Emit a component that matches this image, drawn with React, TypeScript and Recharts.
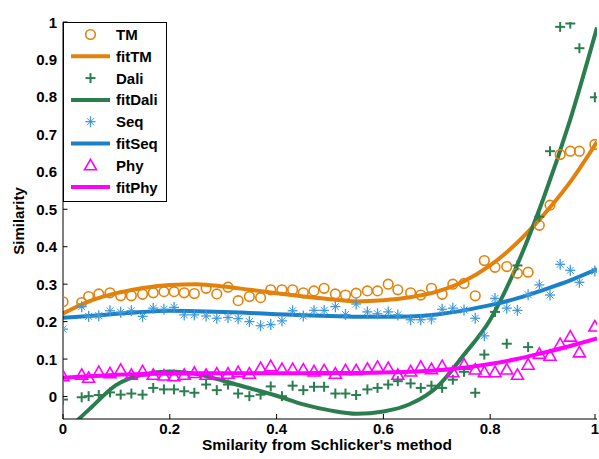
import React from 'react';
import { ComposedChart, Line, Scatter, XAxis, YAxis, Legend } from 'recharts';

// Shared x positions of the sampled points
const xs = [
  0, 0.035, 0.048, 0.067, 0.088, 0.108, 0.128, 0.149, 0.169, 0.189,
  0.208, 0.227, 0.246, 0.268, 0.288, 0.309, 0.328, 0.349, 0.37, 0.389,
  0.41, 0.43, 0.45, 0.47, 0.489, 0.51, 0.529, 0.549, 0.57, 0.589,
  0.609, 0.627, 0.651, 0.67, 0.69, 0.71, 0.73, 0.751, 0.772, 0.789,
  0.809, 0.831, 0.851, 0.871, 0.892, 0.912, 0.931, 0.95, 0.967, 0.996,
];

const tmValues = [
  0.253, 0.251, 0.267, 0.274, 0.277, 0.269, 0.269, 0.273, 0.277, 0.28,
  0.28, 0.277, 0.275, 0.289, 0.274, 0.292, 0.256, 0.267, 0.264, 0.285,
  0.285, 0.285, 0.277, 0.282, 0.289, 0.274, 0.271, 0.276, 0.282, 0.282,
  0.3, 0.285, 0.277, 0.271, 0.289, 0.273, 0.3, 0.302, 0.269, 0.363,
  0.345, 0.347, 0.329, 0.332, 0.457, 0.511, 0.646, 0.655, 0.655, 0.673,
];

const daliValues = [
  -0.008, -0.002, 0.001, 0.004, 0.011, 0.005, 0.008, 0.005, 0.023, 0.019,
  0.019, 0.014, 0.01, 0.032, 0.017, 0.032, 0.008, 0.001, 0.005, 0.027,
  0.001, 0.029, 0.017, 0.026, 0.026, 0.008, 0.008, 0.004, 0.019, 0.023,
  0.032, 0.041, 0.035, 0.023, 0.029, 0.023, 0.045, 0.066, 0.01, 0.112,
  0.226, 0.141, 0.35, 0.132, 0.48, 0.655, 0.987, 0.996, 0.93, 0.799,
];

const seqValues = [
  0.18, 0.24, 0.214, 0.216, 0.229, 0.225, 0.229, 0.214, 0.236, 0.233,
  0.238, 0.218, 0.218, 0.215, 0.209, 0.211, 0.208, 0.2, 0.189, 0.192,
  0.202, 0.229, 0.215, 0.23, 0.23, 0.24, 0.219, 0.247, 0.226, 0.221,
  0.226, 0.218, 0.205, 0.205, 0.207, 0.233, 0.236, 0.231, 0.209, 0.162,
  0.262, 0.236, 0.23, 0.272, 0.298, 0.271, 0.353, 0.337, 0.305, 0.335,
];

const phyValues = [
  0.054, 0.058, 0.05, 0.065, 0.062, 0.071, 0.058, 0.067, 0.058, 0.056,
  0.054, 0.058, 0.063, 0.058, 0.061, 0.061, 0.065, 0.061, 0.076, 0.081,
  0.073, 0.073, 0.072, 0.067, 0.07, 0.061, 0.07, 0.07, 0.074, 0.079,
  0.076, 0.058, 0.067, 0.079, 0.073, 0.081, 0.065, 0.085, 0.072, 0.065,
  0.065, 0.072, 0.058, 0.085, 0.114, 0.109, 0.14, 0.16, 0.118, 0.187,
];

// Fitted curves, sampled every 0.05
const fitX = [
  0, 0.05, 0.1, 0.15, 0.2, 0.25, 0.3, 0.35, 0.4, 0.45, 0.5,
  0.55, 0.6, 0.65, 0.7, 0.75, 0.8, 0.85, 0.9, 0.95, 1,
];
const fitTMValues = [
  0.222, 0.255, 0.276, 0.29, 0.298, 0.3, 0.294, 0.285, 0.276, 0.267, 0.26,
  0.254, 0.257, 0.265, 0.28, 0.307, 0.35, 0.41, 0.485, 0.573, 0.68,
];
const fitDaliValues = [
  -0.1, -0.033, 0.031, 0.059, 0.067, 0.06, 0.042, 0.022, 0.002, -0.021, -0.037,
  -0.046, -0.04, -0.02, 0.025, 0.11, 0.205, 0.35, 0.53, 0.74, 0.985,
];
const fitSeqValues = [
  0.21, 0.215, 0.221, 0.226, 0.229, 0.228, 0.226, 0.223, 0.22, 0.217, 0.215,
  0.213, 0.213, 0.214, 0.219, 0.23, 0.244, 0.262, 0.285, 0.31, 0.34,
];
const fitPhyValues = [
  0.05, 0.054, 0.058, 0.06, 0.061, 0.062, 0.062, 0.062, 0.062, 0.062, 0.063,
  0.063, 0.064, 0.066, 0.07, 0.077, 0.087, 0.1, 0.117, 0.135, 0.155,
];

const xTicks = [0, 0.2, 0.4, 0.6, 0.8, 1];
const yTicks = [0, 0.1, 0.2, 0.3, 0.4, 0.5, 0.6, 0.7, 0.8, 0.9, 1];

const xTitle = "Smilarity from Schlicker's method";
const yTitle = 'Similarity';

const ORANGE = '#E3810A';
const GREEN = '#2A7D4F';
const BLUE = '#1C80C6';
const SEQ_MARK = '#3F9ADB';
const MAGENTA = '#FF00FF';
const FONT = '"Liberation Sans", Arial, Helvetica, sans-serif';

const legendEntries = [
  { name: 'TM', kind: 'circle', color: ORANGE },
  { name: 'fitTM', kind: 'line', color: ORANGE },
  { name: 'Dali', kind: 'plus', color: GREEN },
  { name: 'fitDali', kind: 'line', color: GREEN },
  { name: 'Seq', kind: 'star', color: SEQ_MARK },
  { name: 'fitSeq', kind: 'line', color: BLUE },
  { name: 'Phy', kind: 'triangle', color: MAGENTA },
  { name: 'fitPhy', kind: 'line', color: MAGENTA },
];

const toPoints = (xv: number[], yv: number[]) => xv.map((x, i) => ({ x, y: yv[i] }));

const tmData = toPoints(xs, tmValues);
const daliData = toPoints(xs, daliValues);
const seqData = toPoints(xs, seqValues);
const phyData = toPoints(xs, phyValues);
const fitTMData = toPoints(fitX, fitTMValues);
const fitDaliData = toPoints(fitX, fitDaliValues);
const fitSeqData = toPoints(fitX, fitSeqValues);
const fitPhyData = toPoints(fitX, fitPhyValues);

// Marker glyphs
const CircleMark = ({ cx, cy, color }: any) => (
  <circle cx={cx} cy={cy} r={4.8} fill="none" stroke={color} strokeWidth={1.6} />
);
const PlusMark = ({ cx, cy, color }: any) => (
  <g stroke={color} strokeWidth={2}>
    <line x1={cx - 5} x2={cx + 5} y1={cy} y2={cy} />
    <line x1={cx} x2={cx} y1={cy - 5} y2={cy + 5} />
  </g>
);
const StarMark = ({ cx, cy, color }: any) => (
  <g stroke={color} strokeWidth={1.3}>
    <line x1={cx - 5} x2={cx + 5} y1={cy} y2={cy} />
    <line x1={cx} x2={cx} y1={cy - 5.5} y2={cy + 5.5} />
    <line x1={cx - 3.5} x2={cx + 3.5} y1={cy - 3.5} y2={cy + 3.5} strokeWidth={1} />
    <line x1={cx - 3.5} x2={cx + 3.5} y1={cy + 3.5} y2={cy - 3.5} strokeWidth={1} />
  </g>
);
const TriangleMark = ({ cx, cy, color }: any) => (
  <polygon
    points={`${cx},${cy - 6} ${cx - 6},${cy + 4.5} ${cx + 6},${cy + 4.5}`}
    fill="none"
    stroke={color}
    strokeWidth={1.6}
    strokeLinejoin="miter"
  />
);

const markFor = (kind: string, cx: number, cy: number, color: string) => {
  if (kind === 'circle') return <CircleMark cx={cx} cy={cy} color={color} />;
  if (kind === 'plus') return <PlusMark cx={cx} cy={cy} color={color} />;
  if (kind === 'star') return <StarMark cx={cx} cy={cy} color={color} />;
  return <TriangleMark cx={cx} cy={cy} color={color} />;
};

// Inward-pointing ticks with bold labels
const YTick = (props: any) => {
  const { x, y, payload } = props;
  return (
    <g>
      <line x1={x + 6} x2={x + 10.5} y1={y} y2={y} stroke="#000" strokeWidth={1} />
      <text x={x} y={y + 5.5} textAnchor="end" fontSize={15} fontWeight="bold" fontFamily={FONT} fill="#000">
        {String(payload.value)}
      </text>
    </g>
  );
};

const XTick = (props: any) => {
  const { x, y, payload } = props;
  return (
    <g>
      <line x1={x} x2={x} y1={y - 2} y2={y - 7} stroke="#000" strokeWidth={1} />
      <text x={x} y={y + 13} textAnchor="middle" fontSize={15} fontWeight="bold" fontFamily={FONT} fill="#000">
        {String(payload.value)}
      </text>
    </g>
  );
};

const LegendBox = () => {
  const w = 104;
  const h = 180;
  return (
    <svg width={w} height={h} style={{ display: 'block' }}>
      <rect x={0.5} y={0.5} width={w - 1} height={h - 1} fill="#fff" stroke="#000" strokeWidth={1} />
      {legendEntries.map((e, i) => {
        const cy = 12.5 + i * 21.8;
        return (
          <g key={e.name}>
            {e.kind === 'line' ? (
              <line x1={8} x2={47} y1={cy} y2={cy} stroke={e.color} strokeWidth={4} />
            ) : (
              markFor(e.kind, 27.5, cy, e.color)
            )}
            <text x={53} y={cy + 5.5} fontSize={15} fontWeight="bold" fontFamily={FONT} fill="#000">
              {e.name}
            </text>
          </g>
        );
      })}
    </svg>
  );
};

const XTitle = (props: any) => {
  const vb = props.viewBox || { x: 63, y: 419, width: 534 };
  return (
    <text x={vb.x + vb.width / 2 - 3} y={450} textAnchor="middle" fontSize={15.5} fontWeight="bold" fontFamily={FONT} fill="#000">
      {xTitle}
    </text>
  );
};

const YTitle = () => (
  <text
    x={18}
    y={221}
    transform="rotate(-90 18 221)"
    textAnchor="middle"
    dominantBaseline="central"
    fontSize={15}
    fontWeight="bold"
    fontFamily={FONT}
    fill="#000"
  >
    {yTitle}
  </text>
);

export default function App() {
  return (
    <div style={{ position: 'absolute', left: 0, top: 0, width: 599, height: 459, background: '#fff' }}>
      <ComposedChart width={599} height={459} margin={{ top: 22, right: 2, bottom: 0, left: 0 }}>
        <XAxis
          dataKey="x"
          type="number"
          domain={[0, 1]}
          ticks={xTicks}
          allowDataOverflow
          height={40}
          tickSize={0}
          tickMargin={2}
          tick={<XTick />}
          axisLine={{ stroke: '#000', strokeWidth: 1 }}
          tickLine={false}
          label={<XTitle />}
        />
        <YAxis
          dataKey="y"
          type="number"
          domain={[-0.06, 1]}
          ticks={yTicks}
          allowDataOverflow
          width={63}
          tickSize={0}
          tickMargin={6}
          tick={<YTick />}
          axisLine={{ stroke: '#000', strokeWidth: 1 }}
          tickLine={false}
          label={<YTitle />}
        />
        <Scatter
          name="TM"
          data={tmData}
          dataKey="y"
          isAnimationActive={false}
          shape={(p: any) => <CircleMark cx={p.cx} cy={p.cy} color={ORANGE} />}
        />
        <Line name="fitTM" data={fitTMData} dataKey="y" type="monotone" stroke={ORANGE} strokeWidth={4} dot={false} activeDot={false} isAnimationActive={false} />
        <Scatter
          name="Dali"
          data={daliData}
          dataKey="y"
          isAnimationActive={false}
          shape={(p: any) => <PlusMark cx={p.cx} cy={p.cy} color={GREEN} />}
        />
        <Line name="fitDali" data={fitDaliData} dataKey="y" type="monotone" stroke={GREEN} strokeWidth={4} dot={false} activeDot={false} isAnimationActive={false} />
        <Scatter
          name="Seq"
          data={seqData}
          dataKey="y"
          isAnimationActive={false}
          shape={(p: any) => <StarMark cx={p.cx} cy={p.cy} color={SEQ_MARK} />}
        />
        <Line name="fitSeq" data={fitSeqData} dataKey="y" type="monotone" stroke={BLUE} strokeWidth={4} dot={false} activeDot={false} isAnimationActive={false} />
        <Scatter
          name="Phy"
          data={phyData}
          dataKey="y"
          isAnimationActive={false}
          shape={(p: any) => <TriangleMark cx={p.cx} cy={p.cy} color={MAGENTA} />}
        />
        <Line name="fitPhy" data={fitPhyData} dataKey="y" type="monotone" stroke={MAGENTA} strokeWidth={4} dot={false} activeDot={false} isAnimationActive={false} />
        <Legend
          layout="vertical"
          align="center"
          verticalAlign="middle"
          wrapperStyle={{ left: 63, top: 22, width: 104, height: 180 }}
          content={() => <LegendBox />}
        />
      </ComposedChart>
    </div>
  );
}
